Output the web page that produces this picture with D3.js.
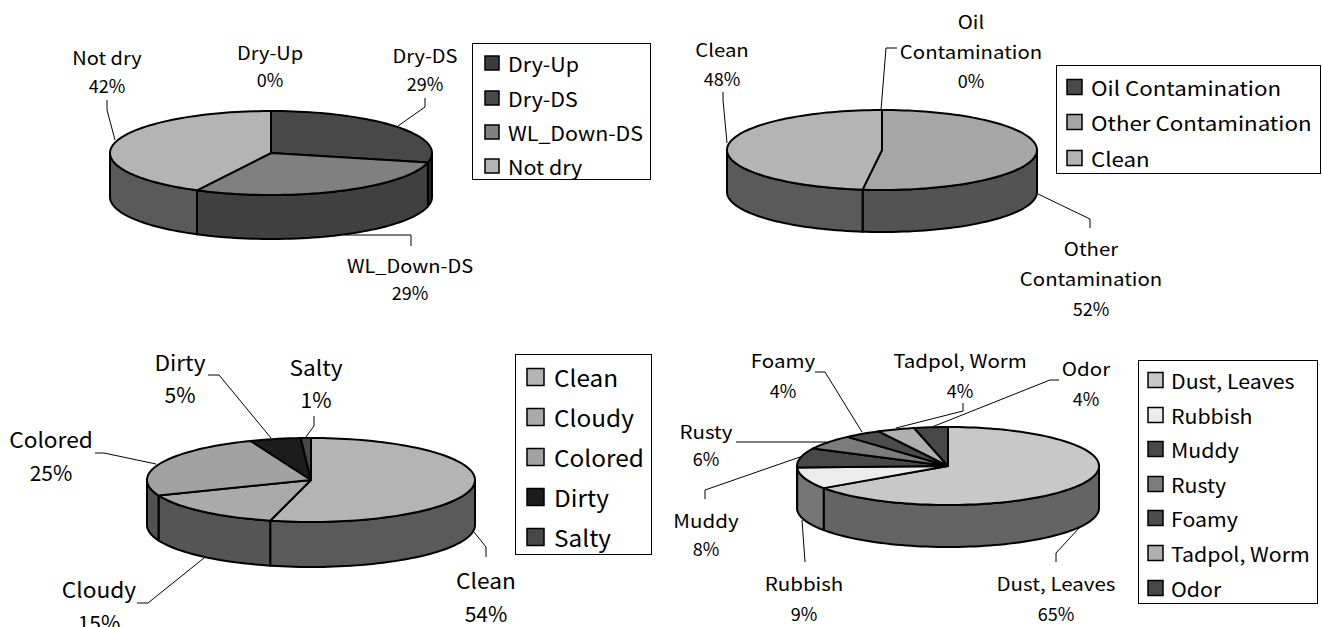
<!DOCTYPE html>
<html><head><meta charset="utf-8">
<script src="https://cdn.jsdelivr.net/npm/d3@7"></script>
<style>html,body{margin:0;padding:0;background:#fff}svg{display:block}
text{font-family:"Noto Sans CJK JP","Noto Sans",sans-serif;fill:#000}</style></head>
<body><svg id="c" width="1322" height="627"></svg>
<script>
// --- data ---
const dryCategories = ["Dry-Up","Dry-DS","WL_Down-DS","Not dry"];
const dryValues = [0,28.6,29,42.4];
const dryShades = ["#3c3c3c","#484848","#808080","#b4b4b4"];

const contamCategories = ["Oil Contamination","Other Contamination","Clean"];
const contamValues = [0,52,48];
const contamShades = ["#4a4a4a","#a6a6a6","#b4b4b4"];

const waterCategories = ["Clean","Cloudy","Colored","Dirty","Salty"];
const waterValues = [54,15,25,5,1];
const waterShades = ["#b4b4b4","#aaaaaa","#a2a2a2","#1c1c1c","#484848"];

const debrisCategories = ["Dust, Leaves","Rubbish","Muddy","Rusty","Foamy","Tadpol, Worm","Odor"];
const debrisValues = [65.4,9,8,6,4,4,3.6];
const debrisShades = ["#c8c8c8","#ececec","#484848","#7c7c7c","#4c4c4c","#b0b0b0","#484848"];

// --- layout ---
const layouts = [
 {cats:dryCategories, vals:dryValues, shades:dryShades,
  cx:271, cy:153, rx:161, ry:42, depth:44, labelSize:18, labelStretch:1.11,
  legend:{x:472,y:43,w:178,h:136,mx:485,tx:508,size:20,stretch:1.07,m:14,rows:[63,98,132,166]},
  labels:[
   {x:270,ys:[52,79],lines:["Dry-Up"],leader:[]},
   {x:425,ys:[55,83],lines:["Dry-DS"],leader:[[425,98],[425,107],[398,126]]},
   {x:410,ys:[265,292],lines:["WL_Down-DS"],leader:[[411,246],[411,235],[345,235]]},
   {x:107,ys:[57,85],lines:["Not dry"],leader:[[107,100],[107,110],[115,140]]}]},
 {cats:contamCategories, vals:contamValues, shades:contamShades,
  cx:882, cy:150, rx:155, ry:40, depth:42, labelSize:18, labelStretch:1.13,
  legend:{x:1056,y:65,w:264,h:108,mx:1067,tx:1091,size:20,stretch:1.115,m:15,rows:[87,122,158]},
  labels:[
   {x:971,ys:[21,51,80],lines:["Oil","Contamination"],leader:[[897,48],[886,48],[881,110]]},
   {x:1091,ys:[248,278,308],lines:["Other","Contamination"],leader:[[1090,228],[1090,219],[1038,194]]},
   {x:722,ys:[49,78],lines:["Clean"],leader:[[723,92],[723,100],[727,143]]}]},
 {cats:waterCategories, vals:waterValues, shades:waterShades,
  cx:311, cy:480, rx:164, ry:42, depth:45, labelSize:21, labelStretch:1.08,
  legend:{x:515,y:354,w:136,h:200,mx:527,tx:554,size:23,stretch:1.06,m:17,rows:[377,417,457,497,537]},
  labels:[
   {x:486,ys:[580,613],lines:["Clean"],leader:[[486,557],[486,547],[474,532]]},
   {x:99,ys:[589,622],lines:["Cloudy"],leader:[[137,603],[148,603],[204,558]]},
   {x:51,ys:[439,472],lines:["Colored"],leader:[[95,453],[104,453],[156,464]]},
   {x:180,ys:[362,394],lines:["Dirty"],leader:[[208,375],[219,375],[271,438]]},
   {x:316,ys:[367,399],lines:["Salty"],leader:[[314,416],[314,426],[305,438]]}]},
 {cats:debrisCategories, vals:debrisValues, shades:debrisShades,
  cx:948, cy:466, rx:151, ry:39, depth:42, labelSize:18, labelStretch:1.14,
  legend:{x:1138,y:360,w:179,h:243,mx:1148,tx:1171,size:20,stretch:1.065,m:15,rows:[380,415,449,484,518,553,588]},
  labels:[
   {x:1056,ys:[583,613],lines:["Dust, Leaves"],leader:[[1056,562],[1056,553],[1080,527]]},
   {x:804,ys:[583,613],lines:["Rubbish"],leader:[[805,562],[802,520]]},
   {x:706,ys:[520,548],lines:["Muddy"],leader:[[705,499],[705,490],[800,457]]},
   {x:706,ys:[431,458],lines:["Rusty"],leader:[[736,442],[826,442]]},
   {x:783,ys:[360,390],lines:["Foamy"],leader:[[815,372],[825,372],[862,432]]},
   {x:960,ys:[360,390],lines:["Tadpol, Worm"],leader:[[963,403],[963,411],[896,428]]},
   {x:1086,ys:[368,398],lines:["Odor"],leader:[[1059,380],[1050,380],[932,427]]}]}
];

const svg = d3.select("#c");
const pieGen = d3.pie().sort(null).value(d=>d);
const HALF = Math.PI/2, STEP = Math.PI/90;
const poly = d3.line();

function stretchText(sel,f){
  const n=sel.node();
  sel.attr("textLength",n.getComputedTextLength()*f).attr("lengthAdjust","spacingAndGlyphs");
}
function angles(a0,a1){
  const out=[]; for(let a=a0;a<a1;a+=STEP) out.push(a); out.push(a1); return out;
}
layouts.forEach(L=>{
  const g = svg.append("g");
  const px = d3.scaleLinear().domain([-1,1]).range([L.cx-L.rx,L.cx+L.rx]);
  const py = d3.scaleLinear().domain([-1,1]).range([L.cy+L.ry,L.cy-L.ry]);
  const pt = a=>[px(Math.sin(a)),py(Math.cos(a))];
  const arcs = pieGen(L.vals);
  const total = d3.sum(L.vals);

  // side walls
  arcs.forEach((d,i)=>{
    const a0=Math.max(d.startAngle,HALF), a1=Math.min(d.endAngle,3*HALF);
    if(a1<=a0) return;
    const top=angles(a0,a1).map(pt);
    const bottom=top.map(p=>[p[0],p[1]+L.depth]).reverse();
    const c=d3.rgb(L.shades[i]);
    g.append("path").attr("d",poly(top.concat(bottom))+"Z")
      .attr("fill",d3.rgb(c.r*0.5,c.g*0.5,c.b*0.5).formatHex())
      .attr("stroke","#000").attr("stroke-width",2).attr("stroke-linejoin","round");
  });
  // top wedges
  arcs.forEach((d,i)=>{
    if(d.endAngle<=d.startAngle) return;
    const pts=[[L.cx,L.cy]].concat(angles(d.startAngle,d.endAngle).map(pt));
    g.append("path").attr("d",poly(pts)+"Z").attr("fill",L.shades[i])
      .attr("stroke","#000").attr("stroke-width",2).attr("stroke-linejoin","round");
  });
  // leaders and labels
  L.labels.forEach(lb=>{
    const idx=L.cats.findIndex(c=>c===lb.lines.join(" "));
    if(lb.leader.length) g.append("path").attr("d",poly(lb.leader))
      .attr("fill","none").attr("stroke","#000").attr("stroke-width",1);
    const rows=lb.lines.concat([Math.round(L.vals[idx]/total*100)+"%"]);
    rows.forEach((t,k)=>{
      const s=g.append("text").attr("x",lb.x).attr("y",lb.ys[k])
        .attr("text-anchor","middle").attr("dominant-baseline","central")
        .attr("font-size",L.labelSize).text(t);
      if(k<lb.lines.length) stretchText(s,L.labelStretch);
    });
  });
  // legend
  const lg=L.legend;
  g.append("rect").attr("x",lg.x+.5).attr("y",lg.y+.5).attr("width",lg.w).attr("height",lg.h)
    .attr("fill","#fff").attr("stroke","#000").attr("stroke-width",1);
  L.cats.forEach((c,i)=>{
    g.append("rect").attr("x",lg.mx).attr("y",lg.rows[i]-lg.m/2).attr("width",lg.m).attr("height",lg.m)
      .attr("fill",L.shades[i]).attr("stroke","#000").attr("stroke-width",1.5);
    const s=g.append("text").attr("x",lg.tx).attr("y",lg.rows[i]).attr("dominant-baseline","central")
      .attr("font-size",lg.size).text(c);
    stretchText(s,lg.stretch);
  });
});
</script></body></html>
